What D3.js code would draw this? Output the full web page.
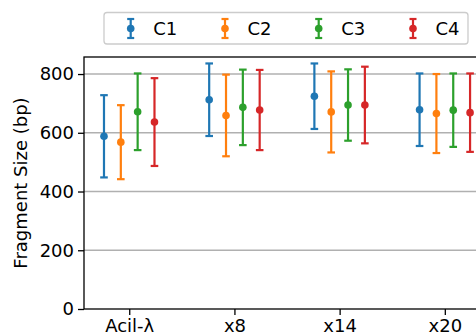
<!DOCTYPE html>
<html><head><meta charset="utf-8">
<script src="https://cdn.jsdelivr.net/npm/d3@7"></script>
<style>body{margin:0;background:#fff}svg{display:block}text{font-family:"DejaVu Sans",sans-serif}</style>
</head><body><svg id="c" width="476" height="334"></svg>
<script>
const categories = ["Acil-λ", "x8", "x14", "x20"];
const seriesNames = ["C1", "C2", "C3", "C4"];
const colors = ["#1f77b4", "#ff7f0e", "#2ca02c", "#d62728"];
const meanC1 = [588, 712.5, 724.5, 678.5];
const meanC2 = [568, 659, 671, 665.5];
const meanC3 = [671.5, 686.5, 694.5, 677];
const meanC4 = [636.5, 677.5, 694.5, 668.5];
const errC1 = [140, 123.5, 111.5, 123.5];
const errC2 = [126, 139, 138, 134.5];
const errC3 = [130.5, 128.5, 121.5, 125];
const errC4 = [149.5, 136.5, 130.5, 133.5];
const yTicks = [0, 200, 400, 600, 800];

const means = [meanC1, meanC2, meanC3, meanC4];
const errs = [errC1, errC2, errC3, errC4];

const svg = d3.select("#c");
const L = 84, R = 489, T = 57, B = 309;
const x = d3.scaleLinear().domain([-0.43, 3.42]).range([L, R]);
const y = d3.scaleLinear().domain([0, 858]).range([B, T]);
const fs = 18;

// grid
svg.append("g").selectAll("line").data(yTicks.filter(d => d > 0)).join("line")
  .attr("x1", L).attr("x2", R).attr("y1", d => y(d)).attr("y2", d => y(d))
  .attr("stroke", "#b0b0b0").attr("stroke-width", 1.4);

// series
const off = [-0.24, -0.08, 0.08, 0.24];
seriesNames.forEach((s, k) => {
  const g = svg.append("g");
  const data = categories.map((c, i) => ({i, m: means[k][i], e: errs[k][i]}));
  const cx = d => x(d.i + off[k]);
  g.selectAll("line.v").data(data).join("line").attr("class", "v")
    .attr("x1", cx).attr("x2", cx).attr("y1", d => y(d.m - d.e)).attr("y2", d => y(d.m + d.e))
    .attr("stroke", colors[k]).attr("stroke-width", 2.2);
  [-1, 1].forEach(sg => {
    g.selectAll("line.c" + sg).data(data).join("line")
      .attr("x1", d => cx(d) - 3.8).attr("x2", d => cx(d) + 3.8)
      .attr("y1", d => y(d.m + sg * d.e)).attr("y2", d => y(d.m + sg * d.e))
      .attr("stroke", colors[k]).attr("stroke-width", 2.2);
  });
  g.selectAll("circle").data(data).join("circle")
    .attr("cx", cx).attr("cy", d => y(d.m)).attr("r", 3.8).attr("fill", colors[k]);
});

// axes
const ya = svg.append("g").attr("transform", `translate(${L},0)`)
  .call(d3.axisLeft(y).tickValues(yTicks).tickSize(6).tickPadding(4));
const xa = svg.append("g").attr("transform", `translate(0,${B})`)
  .call(d3.axisBottom(x).tickValues([0, 1, 2, 3]).tickFormat(i => categories[i]).tickSize(6).tickPadding(4));
[ya, xa].forEach(a => {
  a.select(".domain").remove();
  a.selectAll("line").attr("stroke", "#000").attr("stroke-width", 1.3);
  a.selectAll("text").attr("font-size", fs).attr("fill", "#000").style("font-family", "DejaVu Sans");
});
svg.append("rect").attr("x", L).attr("y", T).attr("width", R - L).attr("height", B - T)
  .attr("fill", "none").attr("stroke", "#000").attr("stroke-width", 1.3);

svg.append("text").attr("transform", `translate(26.5,${(T + B) / 2}) rotate(-90)`)
  .attr("text-anchor", "middle").attr("font-size", fs).text("Fragment Size (bp)");

// legend
const lg = svg.append("g");
lg.append("rect").attr("x", 104).attr("y", 12.5).attr("width", 364).attr("height", 31.5).attr("rx", 3)
  .attr("fill", "#fff").attr("stroke", "#cccccc").attr("stroke-width", 1.3);
const lx = [130.7, 225, 318.7, 413];
seriesNames.forEach((s, k) => {
  const g = lg.append("g");
  const cy = 28.5;
  g.append("line").attr("x1", lx[k]).attr("x2", lx[k]).attr("y1", cy - 9.5).attr("y2", cy + 9.5).attr("stroke", colors[k]).attr("stroke-width", 2.2);
  [-9.5, 9.5].forEach(d => g.append("line").attr("x1", lx[k] - 3.5).attr("x2", lx[k] + 3.5).attr("y1", cy + d).attr("y2", cy + d).attr("stroke", colors[k]).attr("stroke-width", 2.2));
  g.append("circle").attr("cx", lx[k]).attr("cy", cy).attr("r", 3.8).attr("fill", colors[k]);
  g.append("text").attr("x", lx[k] + 22.5).attr("y", 35).attr("font-size", fs).text(s);
});
</script></body></html>
